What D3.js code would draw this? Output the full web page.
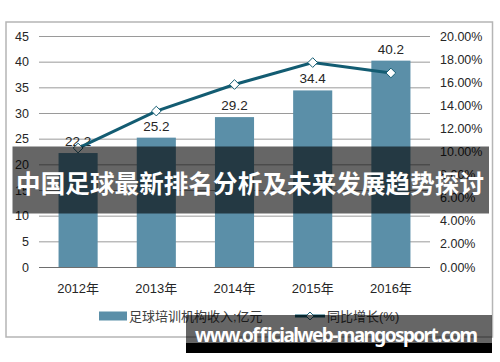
<!DOCTYPE html>
<html>
<head>
<meta charset="utf-8">
<script src="https://cdn.jsdelivr.net/npm/d3@7"></script>
<style>
  body { margin: 0; background: #fff; }
  text { font-family: "Liberation Sans", Arial, "Noto Sans CJK SC", sans-serif; }
</style>
</head>
<body>
<div id="viz"></div>
<script>
// chart data
const years = ["2012年", "2013年", "2014年", "2015年", "2016年"];
const revenue = [22.2, 25.2, 29.2, 34.4, 40.2];   // 足球培训机构收入, 亿元
const growth = [10.3, 13.5, 15.8, 17.7, 16.8];    // 同比增长, %
const leftTicks = [0, 5, 10, 15, 20, 25, 30, 35, 40, 45];
const rightTicks = [0, 2, 4, 6, 8, 10, 12, 14, 16, 18, 20];
const seriesNames = ["足球培训机构收入;亿元", "同比增长(%)"];
const title = "中国足球最新排名分析及未来发展趋势探讨";
const site = "www.officialweb-mangosport.com";

const W = 500, H = 362;
const plot = {left: 39, right: 430, top: 36, bottom: 267};
const barColor = "#5b8fa8", lineColor = "#135c72";

const svg = d3.select("#viz").append("svg")
    .attr("width", W)
    .attr("height", H);

// outer frame
svg.append("rect")
    .attr("x", 6).attr("y", 22)
    .attr("width", 486.5).attr("height", 315)
    .attr("fill", "#fff")
    .attr("stroke", "#b5b5b5")
    .attr("stroke-width", 1.5);

// scales
const x = d3.scaleBand().domain(years).range([plot.left, plot.right])
    .paddingInner(0.5).paddingOuter(0.25);
const y = d3.scaleLinear().domain([0, 45]).range([plot.bottom, plot.top]);
const y2 = d3.scaleLinear().domain([0, 20]).range([plot.bottom, plot.top]);

// left axis + gridlines
const gLeft = svg.append("g")
    .attr("transform", "translate(" + plot.left + ",0)")
    .call(d3.axisLeft(y).tickValues(leftTicks)
        .tickSize(-(plot.right - plot.left)).tickPadding(10));
gLeft.select(".domain").remove();
gLeft.selectAll(".tick line").attr("stroke", d => d === 0 ? "#6e6e6e" : "#9a9a9a");
gLeft.selectAll(".tick text").attr("font-size", 12.5).attr("fill", "#262626");

// right axis
const gRight = svg.append("g")
    .attr("transform", "translate(" + plot.right + ",0)")
    .call(d3.axisRight(y2).tickValues(rightTicks).tickSize(0).tickPadding(10)
        .tickFormat(d => d3.format(".2f")(d) + "%"));
gRight.select(".domain").remove();
gRight.selectAll(".tick text").attr("font-size", 12.5).attr("fill", "#262626");

// bottom axis labels
const gBottom = svg.append("g")
    .attr("transform", "translate(0," + plot.bottom + ")")
    .call(d3.axisBottom(x).tickSize(0).tickPadding(17));
gBottom.select(".domain").remove();
gBottom.selectAll(".tick text").attr("font-size", 13).attr("fill", "#262626");

// bars
svg.append("g").selectAll("rect")
    .data(revenue).enter()
    .append("rect")
    .attr("x", (d, i) => x(years[i]))
    .attr("y", d => y(d))
    .attr("width", x.bandwidth())
    .attr("height", d => y(0) - y(d))
    .attr("fill", barColor);

// bar value labels
svg.append("g").selectAll("text")
    .data(revenue).enter()
    .append("text")
    .attr("x", (d, i) => x(years[i]) + x.bandwidth() / 2)
    .attr("y", d => y(d) - 7)
    .attr("text-anchor", "middle")
    .attr("font-size", 13.5)
    .attr("fill", "#262626")
    .text(d => d.toFixed(1));

// growth line
const line = d3.line()
    .x((d, i) => x(years[i]) + x.bandwidth() / 2)
    .y(d => y2(d));
svg.append("path")
    .datum(growth)
    .attr("d", line)
    .attr("fill", "none")
    .attr("stroke", lineColor)
    .attr("stroke-width", 3);

const diamond = d3.symbol().type(d3.symbolDiamond2).size(60);
svg.append("g").selectAll("path")
    .data(growth).enter()
    .append("path")
    .attr("d", diamond)
    .attr("transform", (d, i) => "translate(" + (x(years[i]) + x.bandwidth() / 2) + "," + y2(d) + ")")
    .attr("fill", "#fff")
    .attr("stroke", lineColor)
    .attr("stroke-width", 1);

// legend
const leg = svg.append("g");
leg.append("rect")
    .attr("x", 99).attr("y", 311.5)
    .attr("width", 28).attr("height", 9)
    .attr("fill", barColor);
leg.append("text")
    .attr("x", 129).attr("y", 321)
    .attr("font-size", 13).attr("fill", "#404040")
    .text(seriesNames[0]);
leg.append("line")
    .attr("x1", 295).attr("x2", 325)
    .attr("y1", 316).attr("y2", 316)
    .attr("stroke", lineColor).attr("stroke-width", 3);
leg.append("path")
    .attr("d", d3.symbol().type(d3.symbolDiamond2).size(40))
    .attr("transform", "translate(310,316)")
    .attr("fill", "#fff").attr("stroke", lineColor);
leg.append("text")
    .attr("x", 327).attr("y", 321)
    .attr("font-size", 13).attr("fill", "#404040")
    .text(seriesNames[1]);

// title banner overlay
svg.append("rect")
    .attr("x", 12.5).attr("y", 146.5)
    .attr("width", 476.5).attr("height", 67)
    .attr("fill", "rgba(0,0,0,0.6)");
svg.append("text")
    .attr("x", 250).attr("y", 193)
    .attr("text-anchor", "middle")
    .attr("font-size", 24.5)
    .attr("font-weight", "bold")
    .attr("fill", "#fff")
    .style("font-family", "'Noto Sans CJK SC', sans-serif")
    .attr("textLength", 468)
    .text(title);

// site banner overlay
svg.append("rect")
    .attr("x", 186).attr("y", 315)
    .attr("width", 306).attr("height", 28)
    .attr("fill", "rgba(0,0,0,0.6)");
svg.append("rect")
    .attr("x", 186).attr("y", 343)
    .attr("width", 306).attr("height", 10)
    .attr("fill", "#000");
svg.append("text")
    .attr("x", 195).attr("y", 342)
    .attr("font-size", 19)
    .attr("font-weight", "bold")
    .attr("fill", "#fff")
    .style("font-family", "'Noto Sans', 'DejaVu Sans', sans-serif")
    .attr("textLength", 283)
    .text(site);
</script>
</body>
</html>
